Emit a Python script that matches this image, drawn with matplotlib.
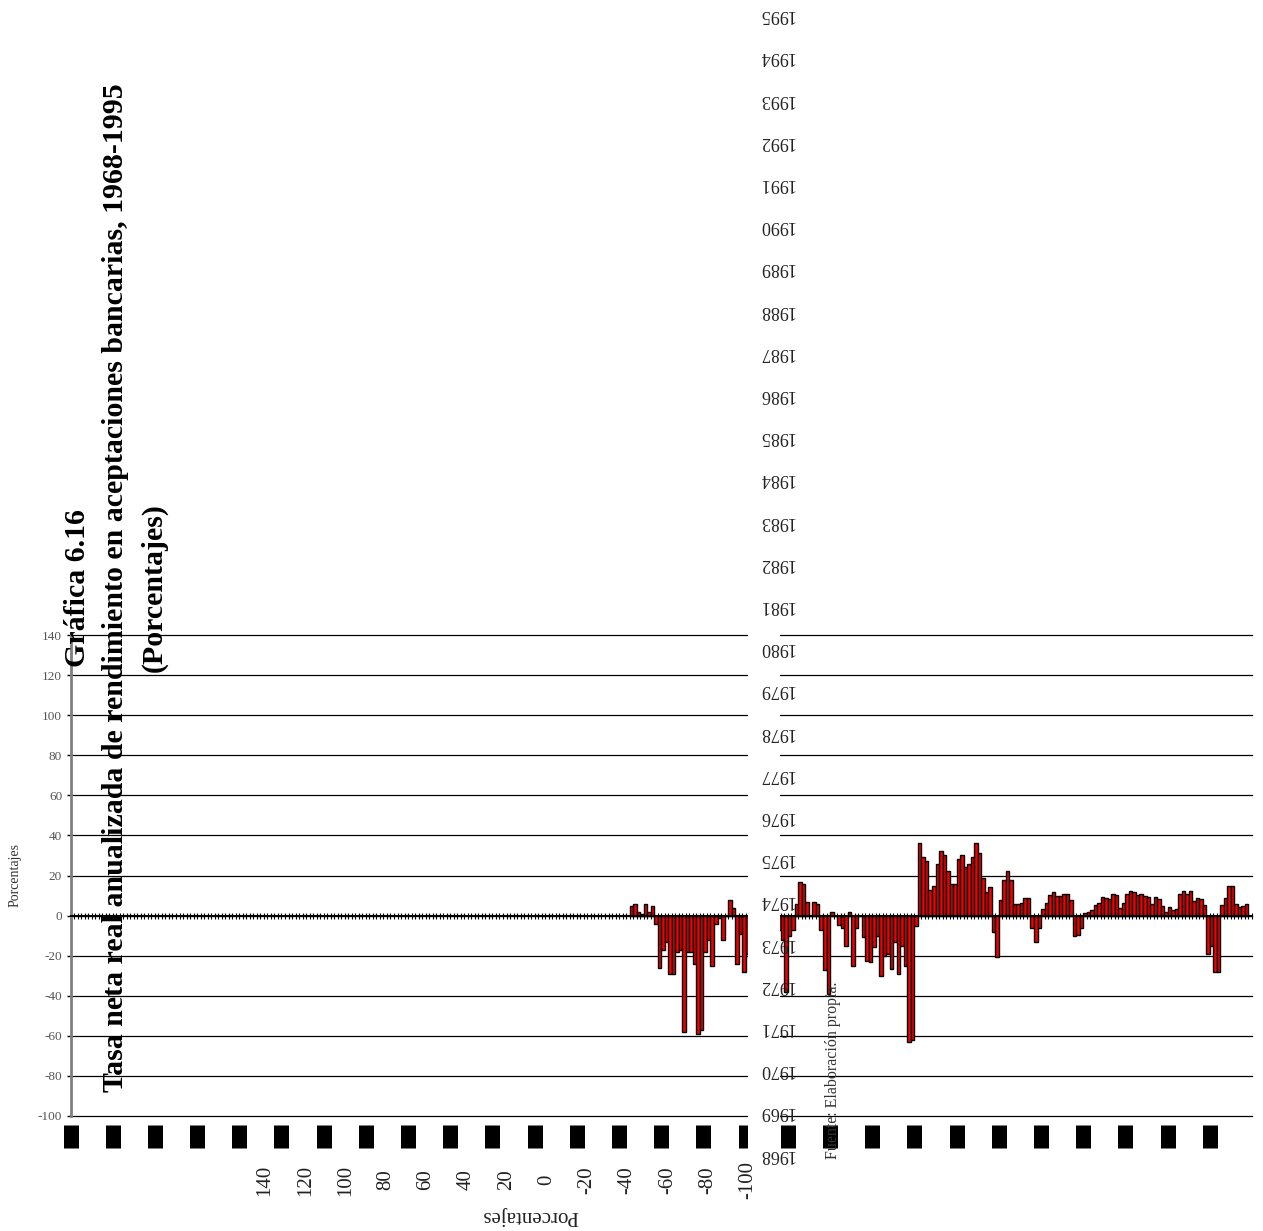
import numpy as np
import matplotlib.pyplot as plt
from matplotlib.patches import Rectangle
from matplotlib.ticker import MultipleLocator

plt.rcParams['font.family'] = ['Liberation Serif', 'DejaVu Serif']
plt.rcParams['axes.unicode_minus'] = False

W, H = 1263, 1231

# tasa neta real anualizada, mensual; meses contados desde enero de 1968
first_month = 159
rates = [
    5, 6, 2, 1, 6, 2, 5, -4, -26, -17, -13, -29, -29, -18, -17, -58, -18, -18,
    -24, -59, -57, -18, -12, -25, -4, -1, -12, 0, 8, 4, -24, -9, -28, -19,
    -15, -10, -8, -5, -9, -12, -6, -4, -7,
    -12, -38, -10, -7, 6, 17, 16, 7, 0, 7, 6, -7, -27, -39,
    2, 0, -4.5, -6, -15, 2, -25, -6, 0, -10.5, -22.5, -23, -15.5, -10, -30, -20,
    -19, -26.5, -13, -29, -15, -25, -63, -62, -5,
    36, 29, 27, 13, 15, 25.5, 32, 30, 22, 16, 16, 28, 30, 24, 25.5, 29, 36, 31,
    19, 12, 14.5, -8, -20.5, 8, 18, 22, 18, 6, 6, 6.5, 9, 9, -6, -13, -6,
    3.5, 6.5, 10.5, 12, 10, 10, 11, 11, 8, -10, -9.5, -6,
    1.5, 2, 3, 5.5, 6.5, 9.5, 9, 8.5, 11, 10.5, 4, 6.5, 11, 12.5, 12, 10.5, 11,
    10, 9.5, 6, 9.5, 8.5, 5, 2, 4.5, 3, 3.5, 11, 12.5, 11, 12.5, 7.5, 9, 8.5, 5.5,
    -19, -15, -28, -28, 5.5, 9, 15, 15, 6, 4.5, 5, 6,
]
years = list(range(1968, 1996))
y_ticks = [140, 120, 100, 80, 60, 40, 20, 0, -20, -40, -60, -80, -100]
n_months = 12 * len(years)

title = ("Gráfica 6.16\n"
         "Tasa neta real anualizada de rendimiento en aceptaciones bancarias, 1968-1995\n"
         "(Porcentajes)")

fig = plt.figure(figsize=(W / 100, H / 100), dpi=100)

# ejes principales (pixeles medidos sobre la imagen)
ax_l, ax_r, ax_t, ax_b = 70.5, 1252, 635, 1116
ax = fig.add_axes([ax_l / W, 1 - ax_b / H, (ax_r - ax_l) / W, (ax_b - ax_t) / H])

months = np.arange(first_month, first_month + len(rates)) + 0.5
ax.bar(months, rates, width=1.0, color='#f00000', edgecolor='black', linewidth=1.0, zorder=3)

ax.set_xlim(0, n_months)
ax.set_ylim(-100, 140)
ax.set_yticks(y_ticks)
ax.grid(axis='y', color='black', linewidth=0.9, clip_on=False)
for gl in ax.get_ygridlines():
    gl.set_clip_on(False)
ax.set_axisbelow(True)

for s in ['top', 'right']:
    ax.spines[s].set_visible(False)
ax.spines['left'].set_color('#808080')
ax.spines['left'].set_linewidth(2)
ax.spines['left'].set_zorder(4)
ax.spines['bottom'].set_position(('data', 0))
ax.spines['bottom'].set_linewidth(1.5)
ax.spines['bottom'].set_zorder(4)

ax.xaxis.set_major_locator(MultipleLocator(1))
ax.tick_params(axis='x', direction='inout', length=5, width=0.8, labelbottom=False)
ax.tick_params(axis='y', direction='out', length=3, width=1, labelsize=9.5,
               labelcolor='#555555', pad=3)

# marcas de año (rectangulos negros bajo el eje)
sec = ax.secondary_xaxis(-(1125 - ax_b) / (ax_b - ax_t))
sec.set_xticks([12 * (y - years[0]) for y in years])
sec.tick_params(axis='x', direction='out', length=16.6, width=10.8, color='black',
                labelbottom=False)
sec.spines['bottom'].set_visible(False)

# franja blanca donde se ven los años
fig.add_artist(Rectangle((748 / W, 1 - 1150 / H), 32 / W, 520 / H,
                         transform=fig.transFigure, facecolor='white',
                         edgecolor='none', zorder=1))

# etiquetas de año, volteadas, en columna
px_month = (ax_r - ax_l) / n_months
y0 = H - 1154
yr_ax = fig.add_axes([740 / W, 0, 72 / W, 1], zorder=2)
yr_ax.set_ylim(-y0 / px_month, (H - y0) / px_month)
yr_ax.set_xlim(0, 1)
yr_ax.axis('off')
for y in years:
    yr_ax.text(0.5, 12 * (y - years[0]), str(y), rotation=180, ha='center',
               va='center', fontsize=13, color='#222222')

# etiquetas de porcentaje abajo
lb_ax = fig.add_axes([265 / W, 0, (748 - 265) / W, 1], zorder=2)
lb_ax.set_xlim(140, -100)
lb_ax.set_ylim(H, 0)
lb_ax.axis('off')
for v in y_ticks:
    lb_ax.text(v, 1180, str(v), rotation=90, ha='center', va='center',
               fontsize=15, color='#222222')
lb_ax.text(140 - (530 - 265) / ((748 - 265) / 240), 1215, 'Porcentajes',
           rotation=180, ha='center', va='center', fontsize=15, color='#222222')

fig.text(15 / W, 1 - 875 / H, 'Porcentajes', rotation=90, ha='center', va='center',
         fontsize=10, color='#333333')
fig.text(833 / W, 1 - 1070 / H, 'Fuente: Elaboración propia.', rotation=90,
         ha='center', va='center', fontsize=11.5, color='#333333', zorder=5)
fig.text(116 / W, 1 - 588 / H, title, rotation=90, ha='center', va='center',
         multialignment='center', fontsize=21.5, fontweight='bold', linespacing=1.55,
         zorder=5)

fig.savefig('out.png', dpi=100)
